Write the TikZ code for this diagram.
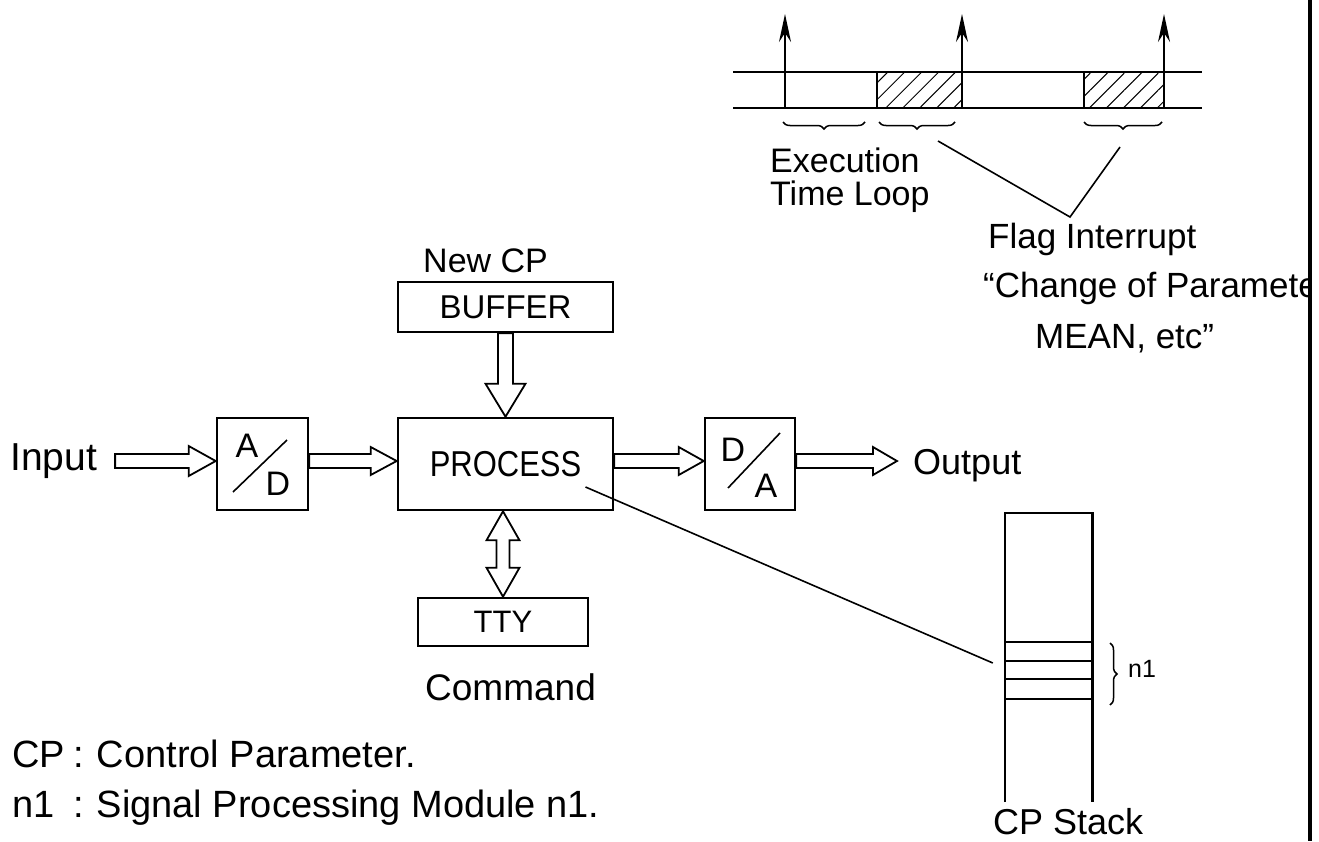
\documentclass[tikz,border=0pt]{standalone}
\usepackage{fontspec}
\setmainfont{Liberation Sans}
\newfontfamily\narrowfont{Liberation Sans}[FakeStretch=0.86]
\usetikzlibrary{calc,arrows.meta,patterns.meta,decorations.pathreplacing}
\newcommand\hollowH[5]{%
 \draw[hollow] ($(#1)+(0,-#5)$) -- ($(#2)+(-#3,-#5)$) -- ($(#2)+(-#3,-#4)$) -- (#2) -- ($(#2)+(-#3,#4)$) -- ($(#2)+(-#3,#5)$) -- ($(#1)+(0,#5)$) -- cycle;}
\newcommand\hollowV[5]{%
 \draw[hollow] ($(#1)+(-#5,0)$) -- ($(#2)+(-#5,-#3)$) -- ($(#2)+(-#4,-#3)$) -- (#2) -- ($(#2)+(#4,-#3)$) -- ($(#2)+(#5,-#3)$) -- ($(#1)+(#5,0)$) -- cycle;}
\newcommand\hollowVV[5]{%
 \draw[hollow] (#1) -- ($(#1)+(#4,#3)$) -- ($(#1)+(#5,#3)$) -- ($(#2)+(#5,-#3)$) -- ($(#2)+(#4,-#3)$) -- (#2) -- ($(#2)+(-#4,-#3)$) -- ($(#2)+(-#5,-#3)$) -- ($(#1)+(-#5,#3)$) -- ($(#1)+(-#4,#3)$) -- cycle;}
\begin{document}
\begin{tikzpicture}[x=1pt,y=-1pt,
  box/.style={draw, line width=2.6pt, inner sep=0pt},
  hollow/.style={draw, line width=1.8pt, line join=miter},
  txt/.style={inner sep=0pt, anchor=base west},
  fs/.style={font=\fontsize{#1}{#1}\selectfont},
  thinline/.style={line width=1.6pt},
  tl/.style={line width=2.4pt},
  tick/.style={line width=1.8pt, -{Stealth[length=28pt,width=12pt]}},
  brc/.style={decorate, decoration={brace, amplitude=7pt}, line width=1.5pt},
  hatch/.style={pattern={Lines[angle=45,distance=12pt,line width=1pt]}}]
\useasboundingbox (0,0) rectangle (1319,841);

% ---- main blocks
\node[box, minimum width=91, minimum height=92] (ad) at (262.5,464) {};
\node[box, minimum width=215, minimum height=92, font=\narrowfont\fontsize{36}{36}\selectfont] (proc) at (505.5,464) {PROCESS};
\node[box, minimum width=90, minimum height=92] (da) at (750,464) {};
\node[box, minimum width=215, minimum height=50, fs=33] (buf) at (505.5,307) {BUFFER};
\node[box, minimum width=170, minimum height=48, fs=31] (tty) at (503,622) {TTY};

\node[fs=34, inner sep=0] (adA) at ($(ad.center)+(-15.5,-18)$) {A};
\node[fs=34, inner sep=0] (adD) at ($(ad.center)+(15.5,20)$) {D};
\draw[thinline] ($(ad.center)+(-29.5,28)$) -- ($(ad.center)+(24.5,-24)$);
\node[fs=34, inner sep=0] (daD) at ($(da.center)+(-17,-14)$) {D};
\node[fs=34, inner sep=0] (daA) at ($(da.center)+(16,22)$) {A};
\draw[thinline] ($(da.center)+(-22,24)$) -- ($(da.center)+(30,-31)$);

% ---- labels
\node[txt, fs=39] (input) at (10,470) {Input};
\node[txt, fs=36] (output) at (913,474) {Output};
\node[txt, fs=34] (newcp) at (423,272) {New CP};
\node[txt, fs=37] (cmd) at (425,700) {Command};
\node[txt, fs=38] (leg1) at (12,767) {\makebox[61pt][l]{CP}:\hspace{13pt}Control Parameter.};
\node[txt, fs=38] (leg2) at (12,817) {\makebox[61pt][l]{n1}:\hspace{13pt}Signal Processing Module n1.};

% ---- hollow arrows
\coordinate (sig) at (0,461);
\coordinate (a0) at ($(input.east |- sig)+(18,0)$);
\coordinate (a1) at (ad.west |- sig);
\coordinate (b0) at (ad.east |- sig);
\coordinate (b1) at (proc.west |- sig);
\coordinate (c0) at (proc.east |- sig);
\coordinate (c1) at (da.west |- sig);
\coordinate (d0) at (da.east |- sig);
\coordinate (d1) at ($(output.west |- sig)+(-16,0)$);
\hollowH{a0}{a1}{27}{15}{7}
\hollowH{b0}{b1}{26}{14}{7}
\hollowH{c0}{c1}{25}{14}{7}
\hollowH{d0}{d1}{24}{14}{7}
\coordinate (e0) at (buf.south);
\coordinate (e1) at (proc.north);
\hollowV{e0}{e1}{33}{20}{7.5}
\coordinate (f0) at (tty.north |- proc.south);
\coordinate (f1) at (tty.north);
\hollowVV{f0}{f1}{29}{16.5}{6.5}

% ---- CP stack
\node[minimum width=87, minimum height=289, inner sep=0] (stack) at (1048.5,657.5) {};
\draw[line width=2.6pt] (stack.south west) -- (stack.north west) -- (stack.north east) -- (stack.south east);
\foreach \yy in {129,148,166,186}
  \draw[line width=1.8pt] ($(stack.north west)+(0,\yy)$) -- ++(87,0);
\draw[brc] (1110,643) -- (1110,705);
\node[txt, fs=25] (n1) at (1128,677) {n1};
\node[txt, fs=36] (cpstack) at (993,834) {CP Stack};
\coordinate (ptr) at ($(proc.center)+(80,23)$);
\coordinate (ptrend) at ($(stack.west)+(-12,5.5)$);
\draw[thinline] (ptr) -- (ptrend);

% ---- timing diagram
\fill[hatch] (877,72) rectangle (962,108);
\fill[hatch] (1084,72) rectangle (1164,108);
\draw[tl] (733,72) -- (1202,72);
\draw[tl] (733,108) -- (1202,108);
\draw[line width=1.8pt] (877,72) -- (877,108);
\draw[line width=1.8pt] (1084,72) -- (1084,108);
\draw[tick] (785,108) -- (785,14);
\draw[tick] (962,108) -- (962,14);
\draw[tick] (1164,108) -- (1164,14);
\draw[brc, decoration={mirror}] (783,122) -- (865,122);
\draw[brc, decoration={mirror}] (879,122) -- (955,122);
\draw[brc, decoration={mirror}] (1084,122) -- (1162,122);
\node[txt, fs=34] (exec) at (770,172) {Execution};
\node[txt, fs=34] (tloop) at (770,205) {Time Loop};
\coordinate (v1) at (938,141);
\coordinate (v2) at (1070,217);
\coordinate (v3) at (1120,147);
\draw[thinline] (v1) -- (v2) -- (v3);
\node[txt, fs=35] (flag) at (988,248) {Flag Interrupt};
\begin{scope}
\clip (0,0) rectangle (1308,841);
\node[txt, fs=35] (chg) at (983,297) {“Change of Parameter};
\end{scope}
\node[txt, fs=35] (mean) at (1035,348) {MEAN, etc”};

% ---- right border
\draw[line width=4pt] (1310,0) -- (1310,841);
\end{tikzpicture}
\end{document}
